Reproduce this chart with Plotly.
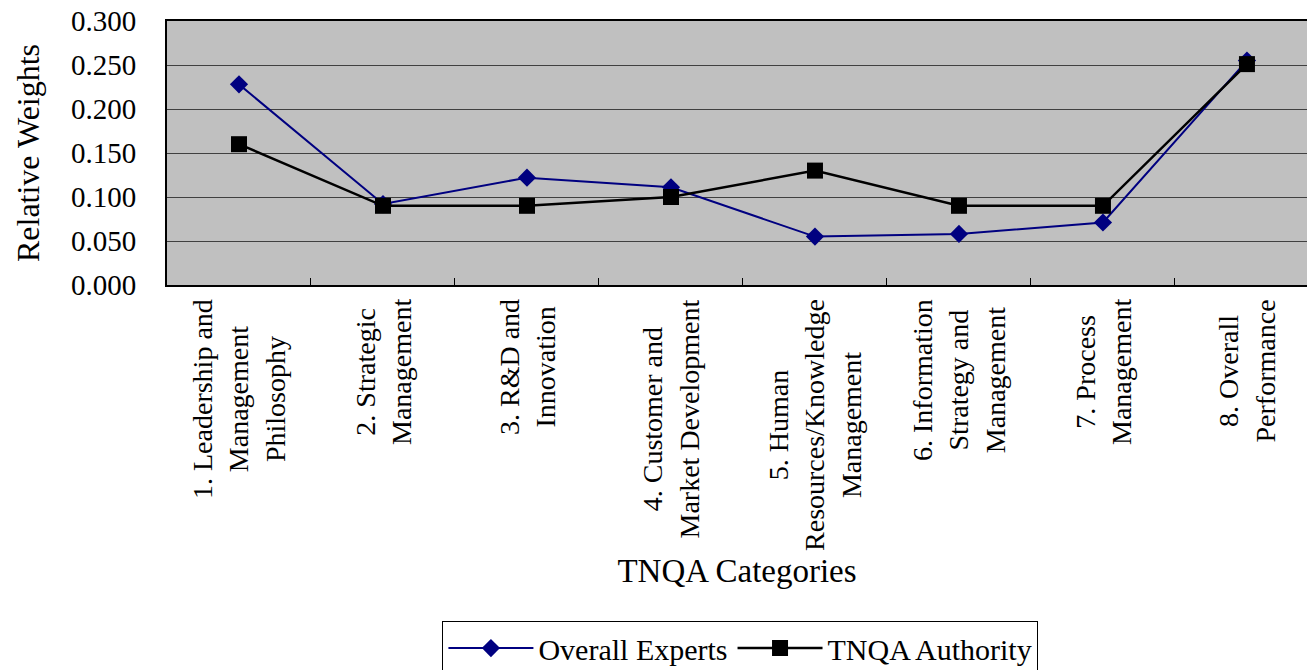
import plotly.graph_objects as go

categories = [
    "1. Leadership and Management Philosophy",
    "2. Strategic Management",
    "3. R&D and Innovation",
    "4. Customer and Market Development",
    "5. Human Resources/Knowledge Management",
    "6. Information Strategy and Management",
    "7. Process Management",
    "8. Overall Performance",
]
category_labels = [
    "1. Leadership and<br>Management<br>Philosophy",
    "2. Strategic<br>Management",
    "3. R&D and<br>Innovation",
    "4. Customer and<br>Market Development",
    "5. Human<br>Resources/Knowledge<br>Management",
    "6. Information<br>Strategy and<br>Management",
    "7. Process<br>Management",
    "8. Overall<br>Performance",
]
overall_experts = [0.228, 0.092, 0.122, 0.111, 0.055, 0.058, 0.071, 0.255]
tnqa_authority = [0.160, 0.090, 0.090, 0.100, 0.130, 0.090, 0.090, 0.251]
y_ticks = [0.0, 0.05, 0.10, 0.15, 0.20, 0.25, 0.30]

FONT = "Liberation Serif, Times New Roman, serif"

fig = go.Figure()
fig.add_trace(go.Scatter(
    x=categories, y=overall_experts, name="Overall Experts",
    mode="lines+markers",
    line=dict(color="#000080", width=2),
    marker=dict(symbol="diamond", size=14, color="#000080"),
))
fig.add_trace(go.Scatter(
    x=categories, y=tnqa_authority, name="TNQA Authority",
    mode="lines+markers",
    line=dict(color="#000000", width=2.5),
    marker=dict(symbol="square", size=16, color="#000000"),
))

for cat, lab in zip(categories, category_labels):
    fig.add_annotation(
        x=cat, y=0, xref="x", yref="paper",
        text=lab, textangle=-90, showarrow=False,
        xanchor="center", yanchor="top", yshift=-12, align="center",
        font=dict(family=FONT, size=28, color="#000000"),
    )

fig.update_layout(
    width=1307, height=670,
    margin=dict(l=167, r=0, t=21, b=385),
    paper_bgcolor="#ffffff",
    plot_bgcolor="#C0C0C0",
    font=dict(family=FONT, color="#000000"),
    showlegend=True,
    legend=dict(
        orientation="h", xref="paper", x=0.503, xanchor="center",
        yref="container", y=0.073, yanchor="top",
        bordercolor="#000000", borderwidth=1, bgcolor="#ffffff",
        font=dict(family=FONT, size=30, color="#000000"),
        itemwidth=85, traceorder="normal",
    ),
    xaxis=dict(
        type="category", range=[-0.5, 7.417],
        showticklabels=False,
        ticks="inside", tickson="boundaries", ticklen=7, tickcolor="#000000", tickwidth=1,
        showgrid=False, zeroline=False,
        showline=True, linecolor="#000000", linewidth=2, mirror=True,
        title=dict(text="TNQA Categories", font=dict(family=FONT, size=33), standoff=273),
    ),
    yaxis=dict(
        range=[0, 0.3], tickvals=y_ticks, tickformat=".3f",
        ticks="", ticklabelstandoff=23,
        tickfont=dict(family=FONT, size=29, color="#000000"),
        showgrid=True, gridcolor="#404040", gridwidth=1,
        zeroline=False,
        showline=True, linecolor="#000000", linewidth=2,
        title=dict(text="Relative Weights", font=dict(family=FONT, size=32), standoff=22),
    ),
)

fig.write_html("out.html")
